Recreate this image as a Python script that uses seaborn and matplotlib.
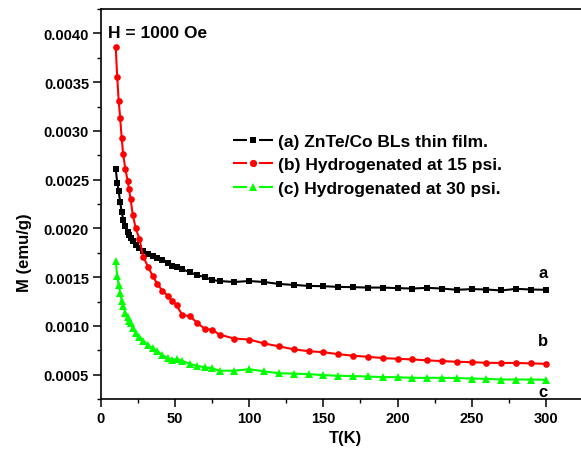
import matplotlib
matplotlib.use("Agg")
import matplotlib.pyplot as plt
import seaborn as sns
import pandas as pd
from matplotlib.lines import Line2D
from matplotlib.ticker import MultipleLocator, FormatStrFormatter

# ---------------- data ----------------
T = [10, 11, 12, 13, 14, 15, 16.5, 18, 19, 20, 21.5, 23.5, 26, 28.5, 32, 35, 38,
     41.5, 45, 48, 51, 55, 60, 65, 70, 75, 80, 90, 100, 110, 120, 130, 140, 150,
     160, 170, 180, 190, 200, 210, 220, 230, 240, 250, 260, 270, 280, 290, 300]

M_a = [0.00261, 0.00247, 0.00238, 0.00227, 0.00217, 0.00209, 0.00202, 0.00196,
       0.00193, 0.00190, 0.00187, 0.00183, 0.00180, 0.00177, 0.00174, 0.00172,
       0.00170, 0.00168, 0.00164, 0.00161, 0.00160, 0.00158, 0.00155, 0.00152,
       0.00150, 0.00147, 0.00146, 0.00145, 0.00146, 0.00145, 0.00143, 0.00142,
       0.00141, 0.001407, 0.00140, 0.001397, 0.001393, 0.001393, 0.001387,
       0.001383, 0.00139, 0.001383, 0.00137, 0.001377, 0.001373, 0.001363,
       0.00138, 0.001373, 0.00137]

M_b = [0.00386, 0.00355, 0.00331, 0.00313, 0.00293, 0.00276, 0.00261, 0.00249,
       0.00240, 0.00230, 0.00214, 0.00200, 0.00189, 0.00171, 0.00160, 0.00151,
       0.00143, 0.00136, 0.00131, 0.00126, 0.00121, 0.00111, 0.00110, 0.00103,
       0.00097, 0.00096, 0.00091, 0.00087, 0.00086, 0.00082, 0.00079, 0.00076,
       0.00074, 0.00073, 0.00071, 0.000694, 0.000683, 0.00067, 0.000662,
       0.000656, 0.000646, 0.000639, 0.000632, 0.000628, 0.000621, 0.00062,
       0.00062, 0.000615, 0.000611]

M_c = [0.00167, 0.00151, 0.00142, 0.00134, 0.00126, 0.00120, 0.00113, 0.00109,
       0.00105, 0.00103, 0.00098, 0.00093, 0.00089, 0.00085, 0.00080, 0.00077,
       0.00074, 0.00070, 0.00067, 0.00065, 0.00066, 0.00064, 0.00061, 0.00059,
       0.000575, 0.000565, 0.00054, 0.00054, 0.000556, 0.000533, 0.000515,
       0.00051, 0.000505, 0.000495, 0.000488, 0.000485, 0.000481, 0.000474,
       0.000474, 0.000467, 0.000467, 0.000467, 0.000465, 0.00046, 0.000457,
       0.00045, 0.00045, 0.00045, 0.000447]

series_labels = ["(a) ZnTe/Co BLs thin film.",
                 "(b) Hydrogenated at 15 psi.",
                 "(c) Hydrogenated at 30 psi."]
curve_tags = ["a", "b", "c"]
tag_x = [298, 298, 298]
tag_y = [0.00155, 0.000847, 0.000323]
field_text = "H = 1000 Oe"
x_label = "T(K)"
y_label = "M (emu/g)"

colors = ["#000000", "#ff0000", "#00ff00"]
markers = ["s", "o", "^"]
msizes = [4.2, 4.8, 5.2]

# ---------------- style ----------------
sns.set_theme(style="ticks")
plt.rcParams['font.family'] = ['Liberation Sans', 'DejaVu Sans']
plt.rcParams['font.weight'] = 'bold'
plt.rcParams['axes.labelweight'] = 'bold'
plt.rcParams['text.color'] = 'black'
plt.rcParams['axes.labelcolor'] = 'black'
plt.rcParams['xtick.color'] = 'black'
plt.rcParams['ytick.color'] = 'black'
plt.rcParams['axes.edgecolor'] = 'black'

fig = plt.figure(figsize=(5.81, 4.56), dpi=100)
ax = fig.add_axes([100.9 / 581, 56 / 456, 489.4 / 581, 390 / 456])

df = pd.DataFrame({
    "T": T * 3,
    "M": M_a + M_b + M_c,
    "sample": [series_labels[0]] * len(T) + [series_labels[1]] * len(T) + [series_labels[2]] * len(T),
})

for i, lab in enumerate(series_labels):
    sub = df[df["sample"] == lab]
    sns.lineplot(data=sub, x="T", y="M", color=colors[i], marker=markers[i],
                 markersize=msizes[i], markeredgewidth=0, linewidth=1.5,
                 sort=False, ax=ax, legend=False, zorder=3 + i)

ax.set_xlim(0, 330)
ax.set_ylim(0.00025, 0.00425)
ax.xaxis.set_major_locator(MultipleLocator(50))
ax.xaxis.set_minor_locator(MultipleLocator(25))
ax.yaxis.set_major_locator(MultipleLocator(0.0005))
ax.yaxis.set_minor_locator(MultipleLocator(0.00025))
ax.yaxis.set_major_formatter(FormatStrFormatter('%.4f'))
ax.tick_params(which='major', direction='out', length=5.5, width=1.1,
               labelsize=10.5, colors='black', labelcolor='black', pad=3)
ax.tick_params(which='minor', direction='out', length=3.2, width=1.0, colors='black')
for lbl in ax.get_xticklabels() + ax.get_yticklabels():
    lbl.set_fontweight('bold')

for s in ['left', 'bottom', 'top']:
    ax.spines[s].set_linewidth(1.2)
    ax.spines[s].set_color('black')
ax.spines['right'].set_visible(False)

ax.set_xlabel(x_label, fontsize=12, fontweight='bold', labelpad=4, color='black')
ax.set_ylabel(y_label, fontsize=12, fontweight='bold', color='black')
ax.yaxis.set_label_coords(-0.141, 0.379)

ax.text(5, 0.00401, field_text, fontsize=12.5, fontweight='bold',
        ha='left', va='center', color='black')

for tx, ty, tg in zip(tag_x, tag_y, curve_tags):
    ax.text(tx, ty, tg, fontsize=12, fontweight='bold', ha='center', va='center',
            color='black')

handles = [Line2D([], [], color=colors[i], marker=markers[i], markersize=msizes[i] + 0.4,
                  markeredgewidth=0, linewidth=1.5, linestyle=(0, (6.7, 5.8)))
           for i in range(3)]
leg = fig.legend(handles, series_labels, loc='upper left',
                 bbox_to_anchor=(233 / 581, (456 - 135) / 456),
                 frameon=False, fontsize=12.5, handlelength=2.3, handletextpad=0.3,
                 borderpad=0, borderaxespad=0, labelspacing=0.47, numpoints=1)
for t in leg.get_texts():
    t.set_fontweight('bold')
    t.set_color('black')

fig.savefig("out.png", dpi=100)
